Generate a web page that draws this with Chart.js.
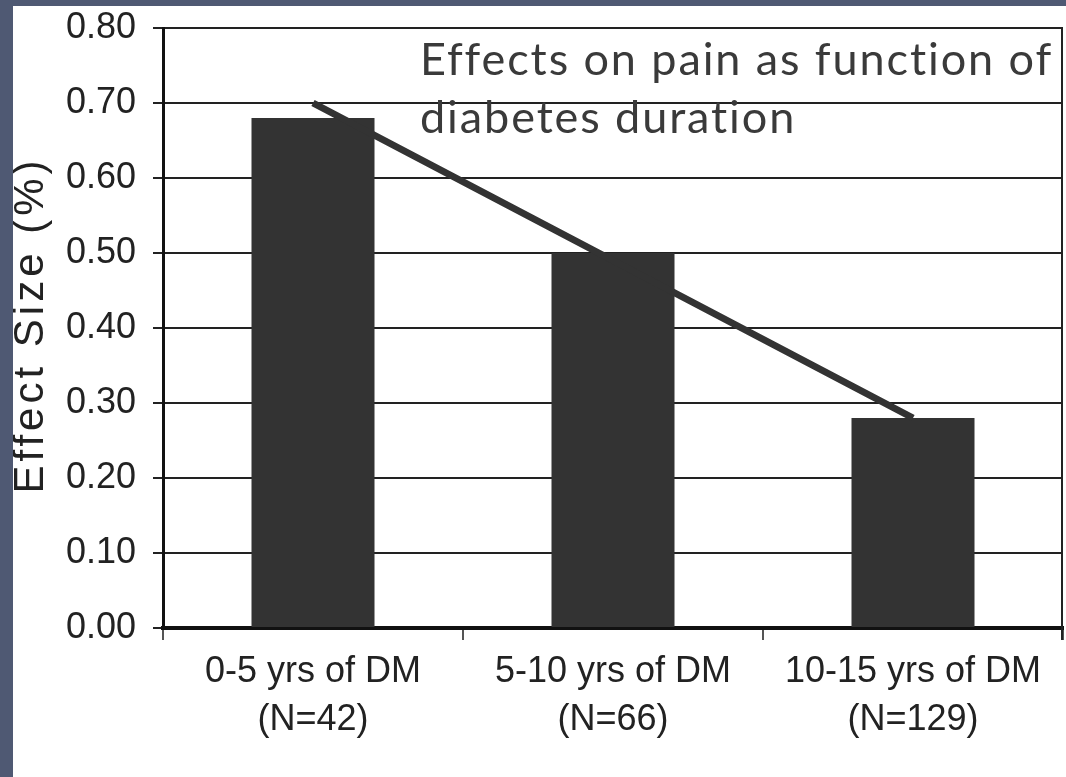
<!DOCTYPE html>
<html>
<head>
<meta charset="utf-8">
<script src="https://cdn.jsdelivr.net/npm/chart.js@4"></script>
<style>
  html, body { margin: 0; padding: 0; }
  body { width: 1066px; height: 777px; background: #4f5973; overflow: hidden; }
  #frame { position: absolute; left: 13px; top: 6px; width: 1053px; height: 771px; background: #fff; }
  #chart { display: block; }
</style>
</head>
<body>
<div id="frame"><canvas id="chart" width="1053" height="771"></canvas></div>
<script>
// categories and values
const categories = [
  ['0-5 yrs of DM', '(N=42)'],
  ['5-10 yrs of DM', '(N=66)'],
  ['10-15 yrs of DM', '(N=129)']
];
const effectSizes = [0.68, 0.50, 0.28];
const trendLine = [0.70, 0.49, 0.28];
const yMin = 0;
const yMax = 0.8;
const yStep = 0.1;
const titleLines = ['Effects on pain as function of', 'diabetes duration'];
const yTitle = 'Effect Size (%)';

const ink = '#333333';

// caption inside the plot, spaced y title, right frame edge
const overlay = {
  id: 'overlay',
  afterDraw(chart) {
    const { ctx, chartArea } = chart;
    ctx.save();
    ctx.strokeStyle = '#222';
    ctx.lineWidth = 2;
    ctx.beginPath();
    ctx.moveTo(chartArea.right - 1, chartArea.top);
    ctx.lineTo(chartArea.right - 1, chartArea.bottom + 12);
    ctx.stroke();

    ctx.fillStyle = '#3a3a3a';
    ctx.font = '45px Lato';
    ctx.letterSpacing = '1.9px';
    ctx.textBaseline = 'alphabetic';
    ctx.textAlign = 'left';
    ctx.fillText(titleLines[0], chartArea.left + 257, chartArea.top + 47);
    ctx.fillText(titleLines[1], chartArea.left + 257, chartArea.top + 105);

    ctx.fillStyle = '#222';
    ctx.font = '42px "Liberation Sans", Arial';
    ctx.letterSpacing = '4px';
    ctx.textAlign = 'center';
    ctx.textBaseline = 'middle';
    ctx.translate(18, (chartArea.top + chartArea.bottom) / 2 - 3);
    ctx.rotate(-Math.PI / 2);
    ctx.fillText(yTitle, 0, 0);
    ctx.restore();
  }
};

new Chart(document.getElementById('chart'), {
  data: {
    labels: categories,
    datasets: [
      {
        type: 'line',
        data: trendLine,
        borderColor: ink,
        borderWidth: 7,
        pointRadius: 0,
        tension: 0,
        order: 0
      },
      {
        type: 'bar',
        data: effectSizes,
        backgroundColor: ink,
        borderWidth: 0,
        barPercentage: 0.41,
        categoryPercentage: 1,
        order: 1
      }
    ]
  },
  options: {
    responsive: false,
    animation: false,
    layout: { padding: { top: 22, right: 3, left: 0, bottom: 0 } },
    plugins: {
      legend: { display: false },
      tooltip: { enabled: false }
    },
    scales: {
      x: {
        offset: true,
        afterFit(scale) { scale.height = 149; },
        grid: { offset: true, drawOnChartArea: false, color: '#555', lineWidth: 2, tickLength: 12 },
        border: { color: '#111', width: 4 },
        ticks: {
          color: '#222',
          padding: 8,
          maxRotation: 0,
          font: { family: '"Liberation Sans", Arial', size: 36, lineHeight: 1.33 }
        }
      },
      y: {
        min: yMin,
        max: yMax,
        afterFit(scale) {
          scale.width = 150;
          scale.paddingTop = 0;
          scale.paddingBottom = 0;
        },
        grid: { color: '#222', lineWidth: 2, tickLength: 10 },
        border: { color: '#111', width: 3 },
        ticks: {
          stepSize: yStep,
          color: '#222',
          padding: 17,
          font: { family: '"Liberation Sans", Arial', size: 36 },
          callback: v => v.toFixed(2)
        }
      }
    }
  },
  plugins: [overlay]
});
</script>
</body>
</html>
